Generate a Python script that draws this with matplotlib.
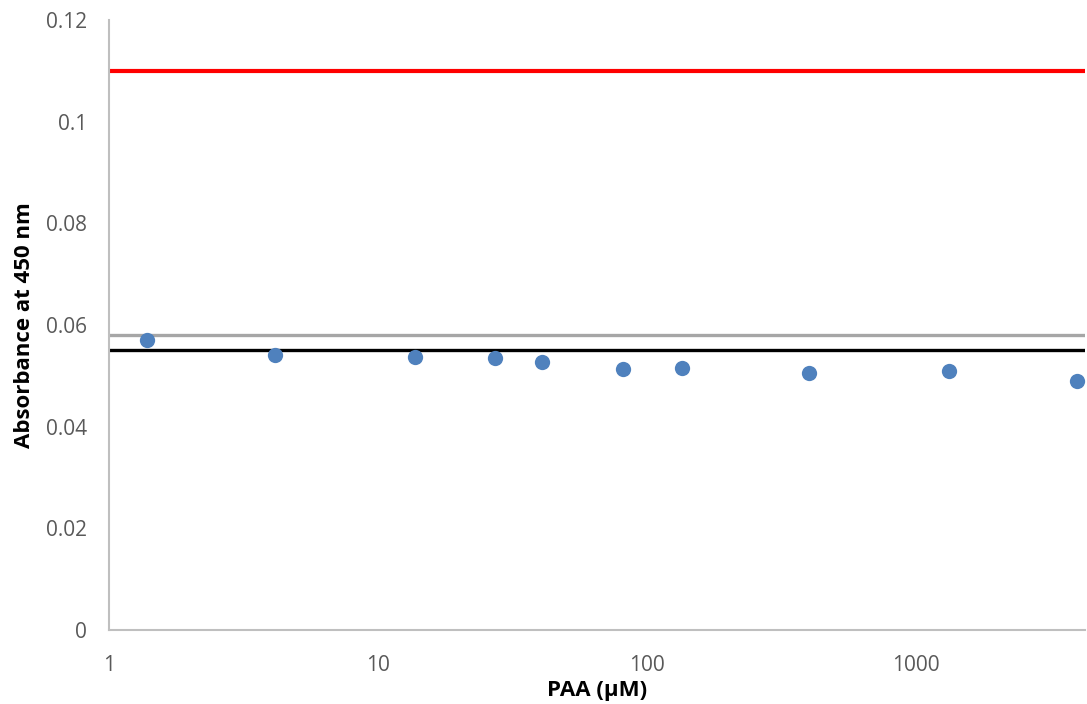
import matplotlib
matplotlib.use("Agg")
import matplotlib.pyplot as plt
from matplotlib.ticker import FixedLocator, FixedFormatter, NullLocator

# 데이터
paa_um = [1.39, 4.14, 13.7, 27.2, 40.6, 81.2, 135, 400, 1330, 3960]
absorbance = [0.0570, 0.0541, 0.0538, 0.0535, 0.0528, 0.0514, 0.0515, 0.0506, 0.0510, 0.0489]

red_level = 0.110
grey_level = 0.0580
black_level = 0.0551

x_ticks = [1, 10, 100, 1000]
x_tick_labels = ["1", "10", "100", "1000"]
y_ticks = [0, 0.02, 0.04, 0.06, 0.08, 0.1, 0.12]
y_tick_labels = ["0", "0.02", "0.04", "0.06", "0.08", "0.1", "0.12"]

plt.rcParams["font.family"] = ["Open Sans", "DejaVu Sans"]

W, H = 1087, 704
fig = plt.figure(figsize=(W / 100, H / 100), dpi=100)
ax = fig.add_axes([109 / W, (H - 630) / H, (1085 - 109) / W, 610 / H])

ax.set_xscale("log")
ax.set_xlim(1, 4250)
ax.set_ylim(0, 0.12)

ax.axhline(red_level, color="#FF0000", lw=3.0, zorder=2)
ax.axhline(grey_level, color="#A6A6A6", lw=2.4, zorder=2)
ax.axhline(black_level, color="#000000", lw=2.4, zorder=2)

ax.plot(paa_um, absorbance, "o", color="#4F81BD", ms=11, mec="none", zorder=3,
        clip_on=False)

ax.xaxis.set_major_locator(FixedLocator(x_ticks))
ax.xaxis.set_major_formatter(FixedFormatter(x_tick_labels))
ax.xaxis.set_minor_locator(NullLocator())
ax.yaxis.set_major_locator(FixedLocator(y_ticks))
ax.yaxis.set_major_formatter(FixedFormatter(y_tick_labels))

ax.tick_params(axis="both", length=0, labelsize=15, labelcolor="#595959")
ax.tick_params(axis="x", pad=18)
ax.tick_params(axis="y", pad=16)

for side in ["top", "right"]:
    ax.spines[side].set_visible(False)
for side in ["left", "bottom"]:
    ax.spines[side].set_color("#BFBFBF")
    ax.spines[side].set_linewidth(1.5)

ax.set_xlabel("PAA (µM)", fontsize=16, fontweight="bold", labelpad=3)
ax.set_ylabel("Absorbance at 450 nm", fontsize=16, fontweight="bold", labelpad=8)

fig.savefig("out.png", dpi=100)
